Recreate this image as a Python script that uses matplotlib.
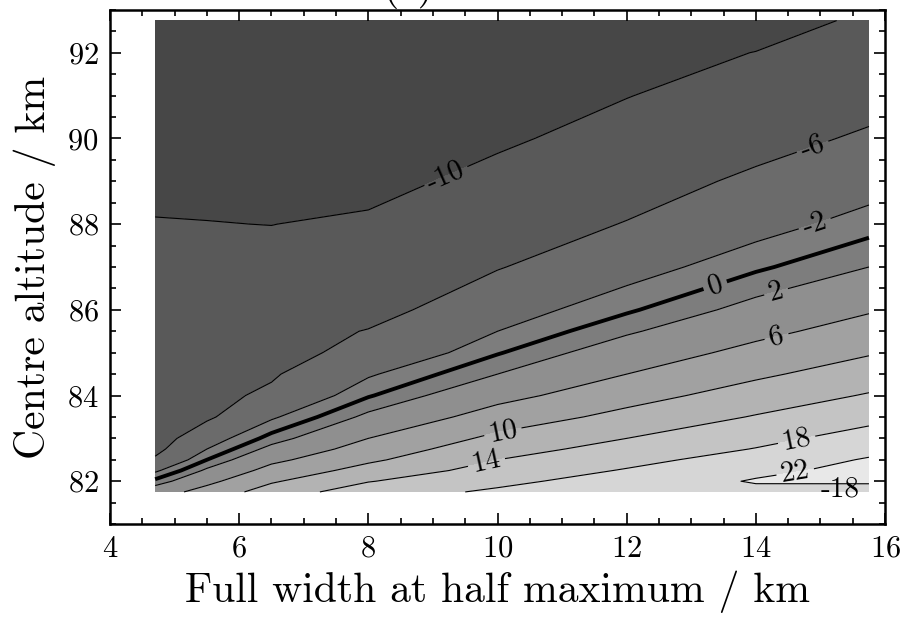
import numpy as np
import matplotlib
matplotlib.use("Agg")
import matplotlib.pyplot as plt
from matplotlib.ticker import MultipleLocator

plt.rcParams['font.family'] = ['cmr10', 'DejaVu Serif']
plt.rcParams['mathtext.fontset'] = 'cm'
plt.rcParams['axes.formatter.use_mathtext'] = True

# FWHM (km) columns, centre altitude (km) rows
fwhm = [4.7, 5.5, 6.5, 8.0, 10.0, 12.0, 14.0, 15.75]
centre = [81.75, 82.0, 82.25, 82.5, 82.75, 83.0, 83.5, 84.0, 84.5, 85.0,
          85.5, 86.0, 87.0, 88.0, 89.0, 90.0, 91.0, 92.0, 92.75]

# values, one row per centre altitude
diff = [
    [4.1, 7.5, 11.8, 16.2, 18.6, 20.6, 21.0, 21.2],
    [0.57, 5.0, 9.56, 13.81, 17.08, 19.7, 22.3, 22.25],
    [-2.5, 2.5, 7.33, 11.43, 15.54, 18.29, 21.2, 23.0],
    [-5.5, 0.0, 5.11, 9.33, 14.0, 16.86, 19.7, 22.33],
    [-7.0, -2.0, 2.89, 7.67, 12.46, 15.43, 18.16, 20.94],
    [-7.8, -3.54, 0.8, 6.0, 10.92, 14.0, 16.86, 19.56],
    [-8.1, -6.6, -2.42, 2.67, 7.74, 11.14, 14.26, 16.87],
    [-8.35, -6.97, -5.35, -0.22, 4.74, 8.5, 11.75, 14.31],
    [-8.6, -7.34, -6.4, -2.35, 2.0, 6.0, 9.33, 11.95],
    [-8.8, -7.71, -7.12, -5.0, -0.18, 3.78, 7.11, 9.67],
    [-9.0, -8.08, -7.60, -5.83, -2.0, 1.6, 5.0, 7.63],
    [-9.15, -8.46, -8.09, -7.33, -3.47, -0.33, 3.0, 5.64],
    [-9.5, -9.2, -9.06, -8.09, -6.2, -3.29, -0.39, 2.0],
    [-9.88, -9.94, -10.03, -9.53, -7.63, -5.87, -3.14, -0.93],
    [-10.6, -10.65, -10.7, -10.95, -9.07, -7.35, -5.43, -3.33],
    [-11.3, -11.35, -11.4, -11.6, -10.5, -8.77, -7.08, -5.56],
    [-12.0, -12.05, -12.1, -12.2, -11.2, -10.09, -8.52, -7.14],
    [-12.7, -12.75, -12.8, -12.8, -11.9, -10.79, -9.96, -8.57],
    [-13.2, -13.3, -13.3, -13.2, -12.4, -11.3, -10.9, -9.64],
]

fill_levels = [-14, -10, -6, -2, 2, 6, 10, 14, 18, 22, 26]
line_levels = [-10, -6, -2, 0, 2, 6, 10, 14, 18, 22]
label_pos = [(9.21, 89.09), (14.89, 89.75), (14.92, 87.97), (13.37, 86.57),
             (14.32, 86.38), (14.32, 85.37), (10.09, 83.09), (9.83, 82.43),
             (14.63, 82.97), (14.6, 82.29)]

greys = [str(g) for g in np.linspace(0.28, 0.91, len(fill_levels) - 1)]
widths = [2.8 if l == 0 else 0.8 for l in line_levels]

fig = plt.figure(figsize=(9.05, 6.18), dpi=100)
ax = fig.add_axes([0.1215, 0.152, 0.8565, 0.832])

X, Y = np.meshgrid(fwhm, centre)
Z = np.array(diff)
ax.contourf(X, Y, Z, levels=fill_levels, colors=greys)
cs = ax.contour(X, Y, Z, levels=line_levels, colors='k', linewidths=widths,
                negative_linestyles='solid')
ax.clabel(cs, fontsize=21, fmt=lambda v: f"{v:g}", manual=label_pos, inline_spacing=6)
ax.text(15.3, 81.8, "-18", fontsize=21, ha='center', va='center')

ax.set_xlim(4, 16)
ax.set_ylim(81, 93)
ax.xaxis.set_major_locator(MultipleLocator(2))
ax.xaxis.set_minor_locator(MultipleLocator(0.5))
ax.yaxis.set_major_locator(MultipleLocator(2))
ax.yaxis.set_minor_locator(MultipleLocator(0.5))
ax.tick_params(which='both', direction='in', top=True, right=True, labelsize=22, width=1.2)
ax.tick_params(which='major', length=8, pad=8)
ax.tick_params(which='minor', length=4.5)
for s in ax.spines.values():
    s.set_linewidth(1.8)

ax.set_xlabel("Full width at half maximum / km", fontsize=30, labelpad=6)
ax.set_ylabel("Centre altitude / km", fontsize=30, labelpad=8)
fig.text(408 / 905, 1.003, "(c)", fontsize=30, ha='center', va='baseline')

fig.savefig("out.png", dpi=100)
